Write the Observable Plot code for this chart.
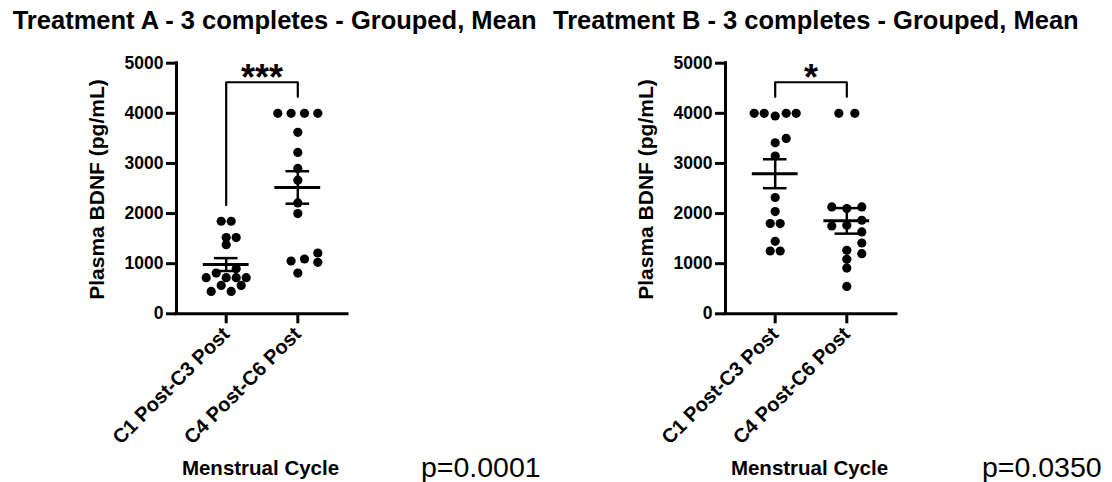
<!DOCTYPE html>
<html><head><meta charset="utf-8">
<script src="https://cdn.jsdelivr.net/npm/d3@7"></script>
<script src="https://cdn.jsdelivr.net/npm/@observablehq/plot@0.6"></script>
<style>
html,body{margin:0;padding:0;background:#fff;}
#wrap{position:relative;width:1112px;height:482px;overflow:hidden;font-family:"Liberation Sans",Arial,sans-serif;background:#fff;}
.panel{position:absolute;top:0;}
#overlay{position:absolute;left:0;top:0;pointer-events:none;}
</style></head><body><div id="wrap"></div>
<script>
// ---- data ----
const categories = ["C1 Post-C3 Post", "C4 Post-C6 Post"];
const yTicks = [0, 1000, 2000, 3000, 4000, 5000];
const titles = ["Treatment A - 3 completes - Grouped, Mean", "Treatment B - 3 completes - Grouped, Mean"];
const pValues = ["p=0.0001", "p=0.0350"];
const stars = ["***", "*"];
const yLabel = "Plasma BDNF (pg/mL)";
const xLabel = "Menstrual Cycle";

// Treatment A
const aC1 = [1847, 1847, 1520, 1520, 1380, 900, 813, 720, 720, 720, 720, 567, 567, 447, 447];
const aC1slot = [-0.5, 0.5, 0, 1, 0, 1, -1, -2, 0, 1, 2, -0.5, 1.5, -1.5, 0.5];
const aC4 = [4000, 4000, 4000, 4000, 3620, 3220, 2900, 2667, 2213, 2000, 1213, 1093, 1053, 1027, 813];
const aC4slot = [-2, -0.67, 0.67, 2, 0, 0, 0, 0, 0, 0, 2, 0.67, -0.67, 2, 0];
const aBracket = [2170, 4620, 4330];

// Treatment B
const bC1 = [4000, 4000, 4000, 4000, 3947, 3500, 3413, 3147, 2320, 2040, 1800, 1800, 1447, 1253, 1253];
const bC1slot = [-2.1, -1.1, 1.1, 2.1, 0, 1.1, 0, 0, 0, 0, -0.5, 0.5, 0, -0.5, 0.5];
const bC4 = [4000, 4000, 2133, 2100, 2133, 1753, 1767, 1867, 1633, 1413, 1200, 1267, 1087, 913, 547];
const bC4slot = [-0.8, 0.8, -1.5, 0, 1.5, -1.5, 0, 1.5, 1.5, 1.5, 1.5, 0, 0, 0, 0];
const bBracket = [4330, 4620, 4330];

const FONT = '"Liberation Sans", Arial, Helvetica, sans-serif';
const xDomain = [0.306, 2.694];
const slotU = 10 / 71.6; // one dot slot in x data units

function panel(c1, s1, c4, s4, bracket, star) {
  const pts = [
    ...c1.map((v, i) => ({v, x: 1 + s1[i] * slotU})),
    ...c4.map((v, i) => ({v, x: 2 + s4[i] * slotU}))
  ];
  const stats = [[1, c1], [2, c4]].map(([g, arr]) => {
    const m = d3.mean(arr), se = d3.deviation(arr) / Math.sqrt(arr.length);
    return {g, m, lo: m - se, hi: m + se};
  });
  const br = [{x: 1, y: bracket[0]}, {x: 1, y: bracket[1]}, {x: 2, y: bracket[1]}, {x: 2, y: bracket[2]}];
  return Plot.plot({
    width: 550, height: 482,
    marginTop: 62.7, marginBottom: 168.7, marginLeft: 176, marginRight: 203,
    style: {fontFamily: FONT, background: "transparent", color: "black", overflow: "visible"},
    x: {domain: xDomain, axis: null},
    y: {domain: [0, 5000], axis: null},
    marks: [
      Plot.axisY({ticks: yTicks, tickFormat: d => String(d), tickSize: 10, tickPadding: 3, strokeWidth: 3,
        fontSize: 17.5, fontWeight: "bold", label: null}),
      Plot.axisX({ticks: [1, 2], tickFormat: d => categories[d - 1], tickRotate: -45, tickSize: 10, tickPadding: 7,
        strokeWidth: 3, fontSize: 20, fontWeight: "bold", label: null}),
      Plot.ruleY([0], {x1: xDomain[0], x2: xDomain[1], strokeWidth: 3, strokeLinecap: "square"}),
      Plot.ruleX([xDomain[0]], {y1: 0, y2: 5000, strokeWidth: 3, strokeLinecap: "square"}),
      Plot.dot(pts, {x: "x", y: "v", r: 4.6, fill: "black", stroke: null}),
      Plot.ruleY(stats, {y: "m", x1: d => d.g - 0.32, x2: d => d.g + 0.32, strokeWidth: 3}),
      Plot.ruleY(stats, {y: "hi", x1: d => d.g - 0.165, x2: d => d.g + 0.165, strokeWidth: 2.5}),
      Plot.ruleY(stats, {y: "lo", x1: d => d.g - 0.165, x2: d => d.g + 0.165, strokeWidth: 2.5}),
      Plot.ruleX(stats, {x: "g", y1: "lo", y2: "hi", strokeWidth: 2.5}),
      Plot.line(br, {x: "x", y: "y", strokeWidth: 2.2}),
      Plot.text([star], {x: 1.5, y: bracket[1], text: d => d, fontSize: 36, fontWeight: "bold",
        lineAnchor: "bottom", dy: 8})
    ]
  });
}

const wrap = document.getElementById("wrap");
const pA = panel(aC1, aC1slot, aC4, aC4slot, aBracket, stars[0]);
pA.classList.add("panel"); pA.style.left = "0px";
const pB = panel(bC1, bC1slot, bC4, bC4slot, bBracket, stars[1]);
pB.classList.add("panel"); pB.style.left = "549px";
wrap.appendChild(pA); wrap.appendChild(pB);

// overlay texts
const ns = "http://www.w3.org/2000/svg";
const ov = document.createElementNS(ns, "svg");
ov.setAttribute("id", "overlay");
ov.setAttribute("width", 1112); ov.setAttribute("height", 482);
ov.setAttribute("font-family", FONT);
function txt(s, attrs) {
  const t = document.createElementNS(ns, "text");
  for (const k in attrs) t.setAttribute(k, attrs[k]);
  t.textContent = s; ov.appendChild(t);
}
const offs = [0, 549];
const titleX = [12.7, 553];
const pX = [421, 982];
[0, 1].forEach(i => {
  txt(titles[i], {x: titleX[i], y: 29.3, "font-size": 25.5, "font-weight": "bold"});
  txt(yLabel, {transform: `translate(${104 + offs[i]},189.5) rotate(-90)`, "text-anchor": "middle", "font-size": 21, "font-weight": "bold"});
  txt(xLabel, {x: 260.5 + offs[i], y: 475, "text-anchor": "middle", "font-size": 20.5, "font-weight": "bold"});
  txt(pValues[i], {x: pX[i], y: 477, "font-size": 28.5});
});
wrap.appendChild(ov);
</script></body></html>
